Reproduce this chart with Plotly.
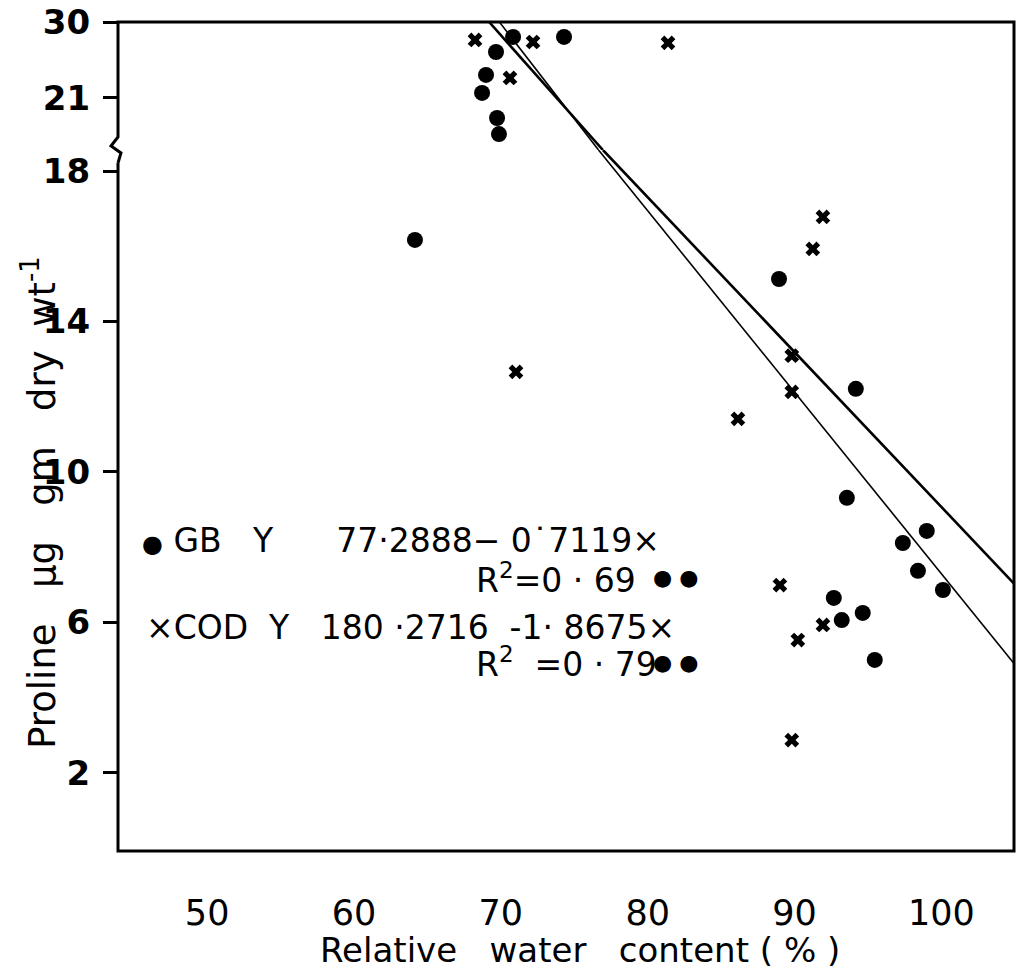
import plotly.graph_objects as go

# ---------------- data ----------------
# GB (filled dots) - points drawn on the lower (unbroken) scale
gb_lower_x = [64.15, 88.94, 94.17, 93.56, 99.0, 97.37, 98.40, 100.10, 92.67, 93.21, 94.64, 95.46]
gb_lower_y = [16.17, 15.13, 12.21, 9.31, 8.43, 8.11, 7.37, 6.86, 6.65, 6.06, 6.25, 5.00]
# GB points drawn on the upper (broken) scale
gb_upper_x = [68.72, 68.99, 69.67, 69.74, 69.87, 70.83, 74.30]
gb_upper_y = [21.6, 23.73, 26.45, 18.63, 16.73, 28.23, 28.23]

# COD (crosses)
cod_lower_x = [71.03, 86.14, 91.93, 91.24, 89.81, 89.81, 89.0, 91.93, 90.22, 89.81]
cod_lower_y = [12.66, 11.41, 16.78, 15.93, 13.09, 12.13, 6.99, 5.93, 5.53, 2.87]
cod_upper_x = [68.24, 72.19, 70.62, 81.38]
cod_upper_y = [27.87, 27.63, 23.37, 27.52]

# fitted lines (end points as drawn), split at the axis break
fit1_upper_x = [69.2, 76.95]
fit1_upper_y = [30.0, 14.84]
fit1_lower_x = [76.95, 105.14]
fit1_lower_y = [18.56, 6.95]
fit2_upper_x = [69.9, 76.65]
fit2_upper_y = [30.0, 14.84]
fit2_lower_x = [76.65, 105.14]
fit2_lower_y = [18.56, 4.81]

x_ticks = [50, 60, 70, 80, 90, 100]
y_lower_ticks = [2, 6, 10, 14, 18]
y_upper_ticks = [21, 30]

# ---------------- figure ----------------
FONT = "DejaVu Sans"
BREAK = 0.8456  # fraction of plot height where the axis break sits

fig = go.Figure()

def add_line(x, y, axis, width):
    fig.add_trace(go.Scatter(x=x, y=y, yaxis=axis, mode="lines",
                             line=dict(color="black", width=width),
                             hoverinfo="skip", showlegend=False))

add_line(fit1_upper_x, fit1_upper_y, "y2", 2.6)
add_line(fit1_lower_x, fit1_lower_y, "y", 2.6)
add_line(fit2_upper_x, fit2_upper_y, "y2", 1.6)
add_line(fit2_lower_x, fit2_lower_y, "y", 1.6)

dot = dict(symbol="circle", size=16, color="black")
cross = dict(symbol="x", size=13, color="black", line=dict(width=0))

fig.add_trace(go.Scatter(x=gb_lower_x, y=gb_lower_y, mode="markers", marker=dot, name="GB", showlegend=False))
fig.add_trace(go.Scatter(x=gb_upper_x, y=gb_upper_y, yaxis="y2", mode="markers", marker=dot, name="GB", showlegend=False))
fig.add_trace(go.Scatter(x=cod_lower_x, y=cod_lower_y, mode="markers", marker=cross, name="COD", showlegend=False))
fig.add_trace(go.Scatter(x=cod_upper_x, y=cod_upper_y, yaxis="y2", mode="markers", marker=cross, name="COD", showlegend=False))

# frame with the break notch on the left side
frame_path = ("M 0,0.8299 L 0,0 L 1,0 L 1,1 L 0,1 L 0,0.8613 "
              "L -0.0078,0.8504 L 0.0033,0.8420 L 0,0.8299")
fig.add_shape(type="path", path=frame_path, xref="paper", yref="paper",
              line=dict(color="black", width=3), layer="above")

S = "&#160;"
ann_font = dict(family=FONT, size=33, color="black")
small_dot = '<span style="font-size:24px">●</span>'
fig.add_annotation(x=0.0245, y=0.374, xref="paper", yref="paper", xanchor="left", yanchor="middle",
                   text=small_dot + S + "GB" + S * 3 + "Y" + S * 6 + "77·2888−" + S + "0˙7119×",
                   showarrow=False, font=ann_font)
fig.add_annotation(x=0.397, y=0.329, xref="paper", yref="paper", xanchor="left", yanchor="middle",
                   text="R<sup>2</sup>=0" + S + "·" + S + "69", showarrow=False, font=ann_font)
fig.add_annotation(x=0.029, y=0.270, xref="paper", yref="paper", xanchor="left", yanchor="middle",
                   text="×COD" + S * 2 + "Y" + S * 3 + "180" + S + "·2716" + S * 2 + "-1·" + S + "8675×",
                   showarrow=False, font=ann_font)
fig.add_annotation(x=0.397, y=0.2268, xref="paper", yref="paper", xanchor="left", yanchor="middle",
                   text="R<sup>2</sup>" + S * 2 + "=0" + S + "·" + S + "79",
                   showarrow=False, font=ann_font)
# significance marks (two dots) after each R^2
for yy in (0.330, 0.2275):
    fig.add_annotation(x=0.622, y=yy, xref="paper", yref="paper", xanchor="center", yanchor="middle",
                       text="●" + S + "●", showarrow=False,
                       font=dict(family=FONT, size=22, color="black"))

# axis titles
fig.add_annotation(x=0.516, y=-0.1195, xref="paper", yref="paper", xanchor="center", yanchor="middle",
                   text="Relative" + S * 3 + "water" + S * 3 + "content" + S + "(" + S + "%" + S + ")",
                   showarrow=False, font=dict(family=FONT, size=34, color="black"))
fig.add_annotation(x=-0.087, y=0.42, xref="paper", yref="paper", xanchor="center", yanchor="middle",
                   textangle=-90,
                   text="Proline" + S * 3 + "μg" + S * 3 + "gm" + S * 3 + "dry" + S * 2 + "wt<sup>-1</sup>",
                   showarrow=False, font=dict(family=FONT, size=37, color="black"))

fig.update_layout(
    width=1008, height=961,
    margin=dict(l=110, r=2, t=14, b=118, autoexpand=False),
    paper_bgcolor="white", plot_bgcolor="white",
    showlegend=False,
    xaxis=dict(range=[43.93, 104.94], tickvals=x_ticks, ticks="", showline=False,
               showgrid=False, zeroline=False, ticklabelstandoff=38, automargin=False,
               tickfont=dict(family=FONT, size=35, color="black")),
    yaxis=dict(domain=[0, BREAK], range=[-0.08, 18.56], tickvals=y_lower_ticks,
               ticks="outside", ticklen=14, tickwidth=2.5, tickcolor="black", automargin=False,
               showline=False, showgrid=False, zeroline=False, ticklabelstandoff=6,
               tickfont=dict(family=FONT, size=34, color="black", weight="bold")),
    yaxis2=dict(domain=[BREAK, 1], range=[14.84, 30.0], tickvals=y_upper_ticks,
                ticktext=["21", "30"], anchor="x", ticklabeloverflow="allow", automargin=False,
                ticks="outside", ticklen=14, tickwidth=2.5, tickcolor="black",
                showline=False, showgrid=False, zeroline=False, ticklabelstandoff=6,
                tickfont=dict(family=FONT, size=34, color="black", weight="bold")),
)

fig.write_html("out.html")
